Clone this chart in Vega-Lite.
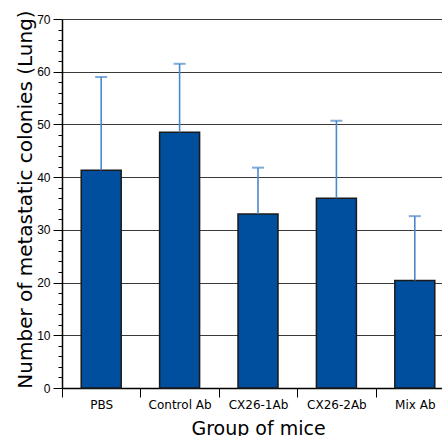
{
  "$schema": "https://vega.github.io/schema/vega-lite/v6.json",
  "autosize": "none",
  "width": 380,
  "height": 369,
  "padding": {"left": 62, "top": 19, "right": 0, "bottom": 48},
  "background": "white",
  "config": {
    "view": {"stroke": null},
    "axisY": {
      "title": "Number of metastatic colonies (Lung)",
      "titleFont": "DejaVu Sans",
      "titleFontSize": 20,
      "titleFontWeight": "normal",
      "titleColor": "black",
      "titleBaseline": "alphabetic",
      "titleAlign": "center",
      "titleAngle": -90,
      "titleX": -31,
      "titleY": 180,
      "labelOverlap": false,
      "labelFlush": false,
      "labelFont": "Liberation Sans",
      "labelFontSize": 12,
      "labelColor": "black",
      "labelPadding": 3,
      "tickColor": "black",
      "tickWidth": 1,
      "domainColor": "black",
      "domainWidth": 1.5,
      "grid": true,
      "gridColor": "#3a3a3a",
      "gridWidth": 1.2
    }
  },
  "data": {
    "values": [
      {"group": "PBS", "mean": 41.3, "upper": 59.0},
      {"group": "Control Ab", "mean": 48.5, "upper": 61.5},
      {"group": "CX26-1Ab", "mean": 33.0, "upper": 41.8},
      {"group": "CX26-2Ab", "mean": 36.0, "upper": 50.7},
      {"group": "Mix Ab", "mean": 20.4, "upper": 32.6}
    ]
  },
  "encoding": {
    "x": {
      "field": "group",
      "type": "nominal",
      "sort": null,
      "scale": {"range": [0, 392], "paddingInner": 0, "paddingOuter": 0},
      "axis": {
        "title": "Group of mice",
        "titleFont": "DejaVu Sans",
        "titleFontSize": 19,
        "titleFontWeight": "normal",
        "titleColor": "black",
        "titleBaseline": "alphabetic",
        "titleY": 46,
        "labelAngle": 0,
        "labelFont": "DejaVu Sans",
        "labelFontSize": 12,
        "labelColor": "black",
        "labelPadding": 2,
        "tickBand": "extent",
        "tickSize": 9,
        "tickColor": "black",
        "tickWidth": 1,
        "domainColor": "black",
        "domainWidth": 1.5,
        "grid": false
      }
    },
    "y": {
      "field": "mean",
      "type": "quantitative",
      "scale": {"domain": [0, 70], "nice": false},
      "axis": {
        "title": "Number of metastatic colonies (Lung)",
        "values": [0,2,4,6,8,10,12,14,16,18,20,22,24,26,28,30,32,34,36,38,40,42,44,46,48,50,52,54,56,58,60,62,64,66,68,70],
        "labelExpr": "datum.value % 10 === 0 ? datum.label : ''",
        "tickSize": {"condition": {"test": "datum.value % 10 === 0", "value": 9}, "value": 4},
        "gridOpacity": {"condition": {"test": "datum.value % 10 === 0", "value": 1}, "value": 0}
      }
    }
  },
  "layer": [
    {
      "mark": {"type": "bar", "fill": "#004f9e", "stroke": "#1a1a1a", "strokeWidth": 1.5, "width": {"band": 0.51}}
    },
    {
      "mark": {"type": "rule", "color": "#4a88cc", "strokeWidth": 1.6},
      "encoding": {
        "y2": {"field": "upper"}
      }
    },
    {
      "mark": {"type": "tick", "color": "#4a88cc", "size": 12, "thickness": 2, "orient": "horizontal"},
      "encoding": {
        "y": {
          "field": "upper",
          "type": "quantitative",
          "axis": {
            "title": "Number of metastatic colonies (Lung)",
            "values": [0,2,4,6,8,10,12,14,16,18,20,22,24,26,28,30,32,34,36,38,40,42,44,46,48,50,52,54,56,58,60,62,64,66,68,70],
            "labelExpr": "datum.value % 10 === 0 ? datum.label : ''",
            "tickSize": {"condition": {"test": "datum.value % 10 === 0", "value": 9}, "value": 4},
            "gridOpacity": {"condition": {"test": "datum.value % 10 === 0", "value": 1}, "value": 0}
          }
        }
      }
    }
  ]
}
